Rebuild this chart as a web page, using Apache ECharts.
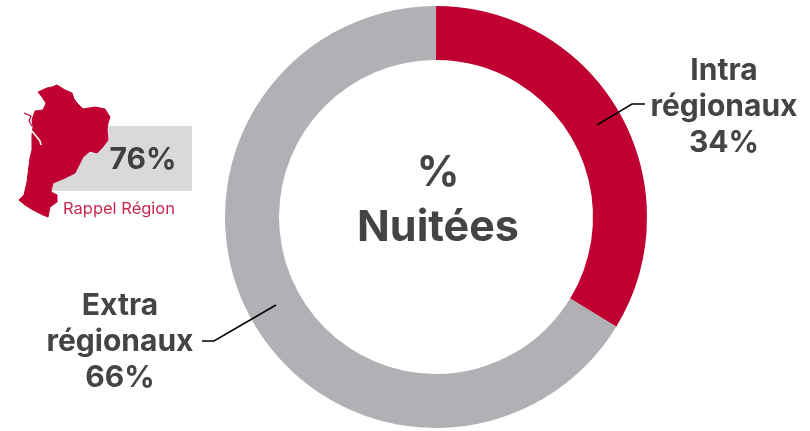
<!DOCTYPE html>
<html>
<head>
<meta charset="utf-8">
<style>
html, body { margin: 0; padding: 0; background: #fff; }
#main { width: 810px; height: 431px; }
</style>
<script src="https://cdn.jsdelivr.net/npm/echarts@6/dist/echarts.min.js"></script>
</head>
<body>
<div id="main"></div>
<script>
var categories = ['Intra\nrégionaux', 'Extra\nrégionaux'];
var values = [33.7, 66.3];
var colors = ['#c00031', '#b0b0b5'];
var regionValue = '76%';
var regionLabel = 'Rappel Région';
var centerLines = ['%', 'Nuitées'];

// contour de la région
var regionOutline = [[38,92],[47,88],[52,87],[57,85],[65,90],[72,93],[74,99],[77,103],[83,109],[95,107],[105,109],[110,117],[108,123],[107,130],[108,140],[102,148],[97,153],[90,151],[83,157],[78,167],[75,173],[65,178],[53,183],[51,192],[57,195],[57,202],[50,207],[48,217],[43,215],[33,210],[25,205],[19,200],[24,195],[27,182],[30,158],[32,150],[32,135],[33,127],[32,120],[35,111],[43,110],[46,103],[42,97]];
var island = [[24,113],[31,116],[29,121],[32,126]];
var bayLine = [[32,131],[36,136],[40,141],[41,145]];

var labelPos = [
	{ x: 724, y: 107 },
	{ x: 120, y: 342 }
];
// les traits de rappel passent au-dessus de l'anneau
var leaderLines = [
	[[645, 104], [632, 104], [597, 125]],
	[[202, 341], [214, 341], [276, 305]]
];

var chart = echarts.init(document.getElementById('main'));
var font = 'Inter';

chart.setOption({
	animation: false,
	series: [{
		type: 'pie',
		center: [436, 217],
		radius: [157, 211],
		startAngle: 90,
		clockwise: true,
		silent: true,
		data: categories.map(function(name, i) {
			return { name: name, value: values[i], itemStyle: { color: colors[i] } };
		}),
		label: {
			show: true,
			position: 'outside',
			formatter: function(p) { return p.name + '\n' + Math.round(p.value) + '%'; },
			color: '#444444',
			fontFamily: font,
			fontWeight: 'bold',
			fontSize: 30,
			lineHeight: 36,
			overflow: 'none',
			align: 'center',
			verticalAlign: 'middle'
		},
		labelLine: { show: false },
		labelLayout: function(p) {
			var pos = labelPos[p.dataIndex];
			return { x: pos.x, y: pos.y, align: 'center', verticalAlign: 'middle' };
		}
	}],
	graphic: [
		{ type: 'rect', z: 1, shape: { x: 53, y: 126, width: 139, height: 65 }, style: { fill: '#d9d9d9' } },
		{ type: 'polygon', z: 2, shape: { points: regionOutline }, style: { fill: '#c00031', stroke: '#c00031', lineWidth: 1, lineJoin: 'round' } },
		{ type: 'polyline', z: 2, shape: { points: island }, style: { stroke: '#c00031', lineWidth: 1.2, fill: null } },
		{ type: 'polyline', z: 3, shape: { points: bayLine }, style: { stroke: '#ffffff', lineWidth: 1.6, fill: null } },
		{ type: 'polyline', z: 10, shape: { points: leaderLines[0] }, style: { stroke: '#000000', lineWidth: 1.5, fill: null } },
		{ type: 'polyline', z: 10, shape: { points: leaderLines[1] }, style: { stroke: '#000000', lineWidth: 1.5, fill: null } },
		{ type: 'text', z: 3, x: 143, y: 160, style: { text: regionValue, font: 'bold 30px ' + font, fill: '#404040', align: 'center', verticalAlign: 'middle' } },
		{ type: 'text', z: 3, x: 119, y: 209, style: { text: regionLabel, font: '16.5px ' + font, fill: '#c9284f', align: 'center', verticalAlign: 'middle' } },
		{ type: 'text', z: 3, x: 438, y: 173, style: { text: centerLines[0], font: 'bold 42px ' + font, fill: '#444444', align: 'center', verticalAlign: 'middle' } },
		{ type: 'text', z: 3, x: 438, y: 228, style: { text: centerLines[1], font: 'bold 43px ' + font, fill: '#444444', align: 'center', verticalAlign: 'middle' } }
	]
});
</script>
</body>
</html>
